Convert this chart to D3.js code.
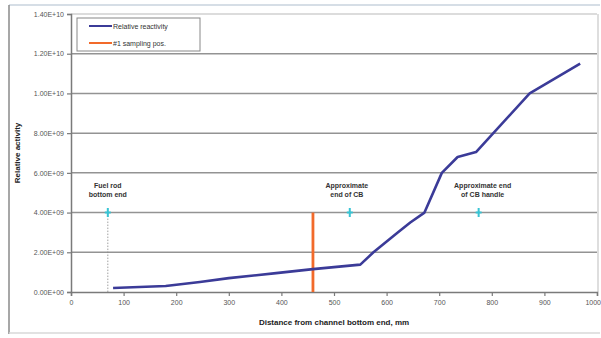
<!DOCTYPE html>
<html>
<head>
<meta charset="utf-8">
<script src="https://cdn.jsdelivr.net/npm/d3@7/dist/d3.min.js"></script>
<style>
  html, body { margin: 0; padding: 0; background: #fff; }
  svg { display: block; font-family: "Liberation Sans", Arial, sans-serif; }
</style>
</head>
<body>
<svg id="chart" width="601" height="338"></svg>
<script>
// Relative reactivity along the channel
const distance = [80, 180, 245, 300, 390, 460, 550, 575, 620, 645, 672, 705, 735, 770, 872, 968];
const reactivity = [0.2e9, 0.3e9, 0.5e9, 0.7e9, 0.95e9, 1.15e9, 1.38e9, 2.0e9, 2.97e9, 3.5e9, 4.0e9, 6.0e9, 6.8e9, 7.05e9, 1.0e10, 1.15e10];

// Sampling position #1
const samplingX = [460, 460];
const samplingY = [0, 4.0e9];

// Reference markers with their notes
const markerX = [70, 530, 775];
const markerY = [4.0e9, 4.0e9, 4.0e9];
const markerText = [["Fuel rod", "bottom end"], ["Approximate", "end of CB"], ["Approximate end", "of CB handle"]];

const xTicks = [0, 100, 200, 300, 400, 500, 600, 700, 800, 900, 1000];
const yTicks = [0, 2e9, 4e9, 6e9, 8e9, 1.0e10, 1.2e10, 1.4e10];

const legendLabels = ["Relative reactivity", "#1 sampling pos."];
const colors = { react: "#3b3b98", sample: "#f26a2a", marker: "#38c4d4" };

const svg = d3.select("#chart");
const plot = { left: 71, right: 597, top: 14, bottom: 292 };

const x = d3.scaleLinear().domain([0, 1000]).range([plot.left, plot.right]);
const y = d3.scaleLinear().domain([0, 1.4e10]).range([plot.bottom, plot.top]);

// outer chart frame
svg.append("line").attr("x1", 9).attr("x2", 600).attr("y1", 5).attr("y2", 5)
  .attr("stroke", "#c9d3de").attr("stroke-width", 1.5);
svg.append("line").attr("x1", 9).attr("x2", 9).attr("y1", 5).attr("y2", 334)
  .attr("stroke", "#8a8a8a").attr("stroke-width", 1.5);
svg.append("line").attr("x1", 9).attr("x2", 600).attr("y1", 333).attr("y2", 333)
  .attr("stroke", "#d8d8d8").attr("stroke-width", 1.5);

const fmt = d => {
  if (d === 0) return "0.00E+00";
  const e = Math.floor(Math.log10(d));
  return (d / Math.pow(10, e)).toFixed(2) + "E+" + String(e).padStart(2, "0");
};

// horizontal gridlines
svg.append("g").selectAll("line").data(yTicks.filter(d => d > 0)).join("line")
  .attr("x1", plot.left).attr("x2", plot.right)
  .attr("y1", d => y(d)).attr("y2", d => y(d))
  .attr("stroke", d => d === 1.4e10 ? "#d0d0d0" : "#939393").attr("stroke-width", 1.5);

// right plot border
svg.append("line").attr("x1", plot.right + 1).attr("x2", plot.right + 1)
  .attr("y1", plot.top).attr("y2", plot.bottom).attr("stroke", "#c8c8c8").attr("stroke-width", 1.2);

// axes
const yAxis = svg.append("g").attr("transform", `translate(${plot.left},0)`)
  .call(d3.axisLeft(y).tickValues(yTicks).tickFormat(fmt).tickSize(4).tickPadding(3));
const xAxis = svg.append("g").attr("transform", `translate(0,${plot.bottom})`)
  .call(d3.axisBottom(x).tickValues(xTicks).tickFormat(d3.format("d")).tickSize(4).tickPadding(4));
[xAxis, yAxis].forEach(g => {
  g.select(".domain").attr("stroke", "#7a7a7a").attr("stroke-width", 1.5);
  g.selectAll(".tick line").attr("stroke", "#7a7a7a").attr("stroke-width", 1.2);
  g.selectAll(".tick text").attr("fill", "#555").attr("font-size", 7);
});
// keep the last label inside the chart edge
xAxis.selectAll(".tick text").filter(d => d === 1000)
  .attr("text-anchor", "end").attr("dx", "0.5em");

// dotted drop line below the fuel rod marker
svg.append("line")
  .attr("x1", x(markerX[0])).attr("x2", x(markerX[0]))
  .attr("y1", y(markerY[0])).attr("y2", y(0))
  .attr("stroke", "#888").attr("stroke-width", 0.8).attr("stroke-dasharray", "1.5,1.5");

// sampling position
svg.append("line")
  .attr("x1", x(samplingX[0])).attr("x2", x(samplingX[1]))
  .attr("y1", y(samplingY[0])).attr("y2", y(samplingY[1]))
  .attr("stroke", colors.sample).attr("stroke-width", 2.8);

// reactivity curve
const line = d3.line().x((d, i) => x(distance[i])).y(d => y(d));
svg.append("path").datum(reactivity)
  .attr("d", line).attr("fill", "none")
  .attr("stroke", colors.react).attr("stroke-width", 2.6).attr("stroke-linejoin", "round");

// markers and their notes
markerX.forEach((mx, i) => {
  const cx = x(mx), cy = y(markerY[i]);
  svg.append("path")
    .attr("d", `M${cx - 3},${cy}H${cx + 3}M${cx},${cy - 4.5}V${cy + 4.5}`)
    .attr("stroke", colors.marker).attr("stroke-width", 2);
  const t = svg.append("text").attr("text-anchor", "middle")
    .attr("font-size", 7).attr("font-weight", "bold").attr("fill", "#333");
  markerText[i].forEach((s, j) => {
    t.append("tspan").attr("x", cx + (i === 0 ? 0 : i === 1 ? -3 : 4))
      .attr("y", cy - 25 + j * 9).text(s);
  });
});

// legend
const lg = svg.append("g");
lg.append("rect").attr("x", 77).attr("y", 18).attr("width", 123).attr("height", 33)
  .attr("fill", "#fff").attr("stroke", "#888").attr("stroke-width", 1);
[colors.react, colors.sample].forEach((c, i) => {
  const ly = 26 + i * 17;
  lg.append("line").attr("x1", 89).attr("x2", 112).attr("y1", ly).attr("y2", ly)
    .attr("stroke", c).attr("stroke-width", 2);
  lg.append("text").attr("x", 113).attr("y", ly + 2.5).attr("font-size", 7)
    .attr("fill", "#333").text(legendLabels[i]);
});

// axis titles
svg.append("text").attr("x", (plot.left + plot.right) / 2).attr("y", 325)
  .attr("text-anchor", "middle").attr("font-size", 8).attr("font-weight", "bold")
  .attr("fill", "#222").text("Distance from channel bottom end, mm");
svg.append("text").attr("transform", `translate(20,${(plot.top + plot.bottom) / 2}) rotate(-90)`)
  .attr("text-anchor", "middle").attr("font-size", 8).attr("font-weight", "bold")
  .attr("fill", "#222").text("Relative activity");
</script>
</body>
</html>
